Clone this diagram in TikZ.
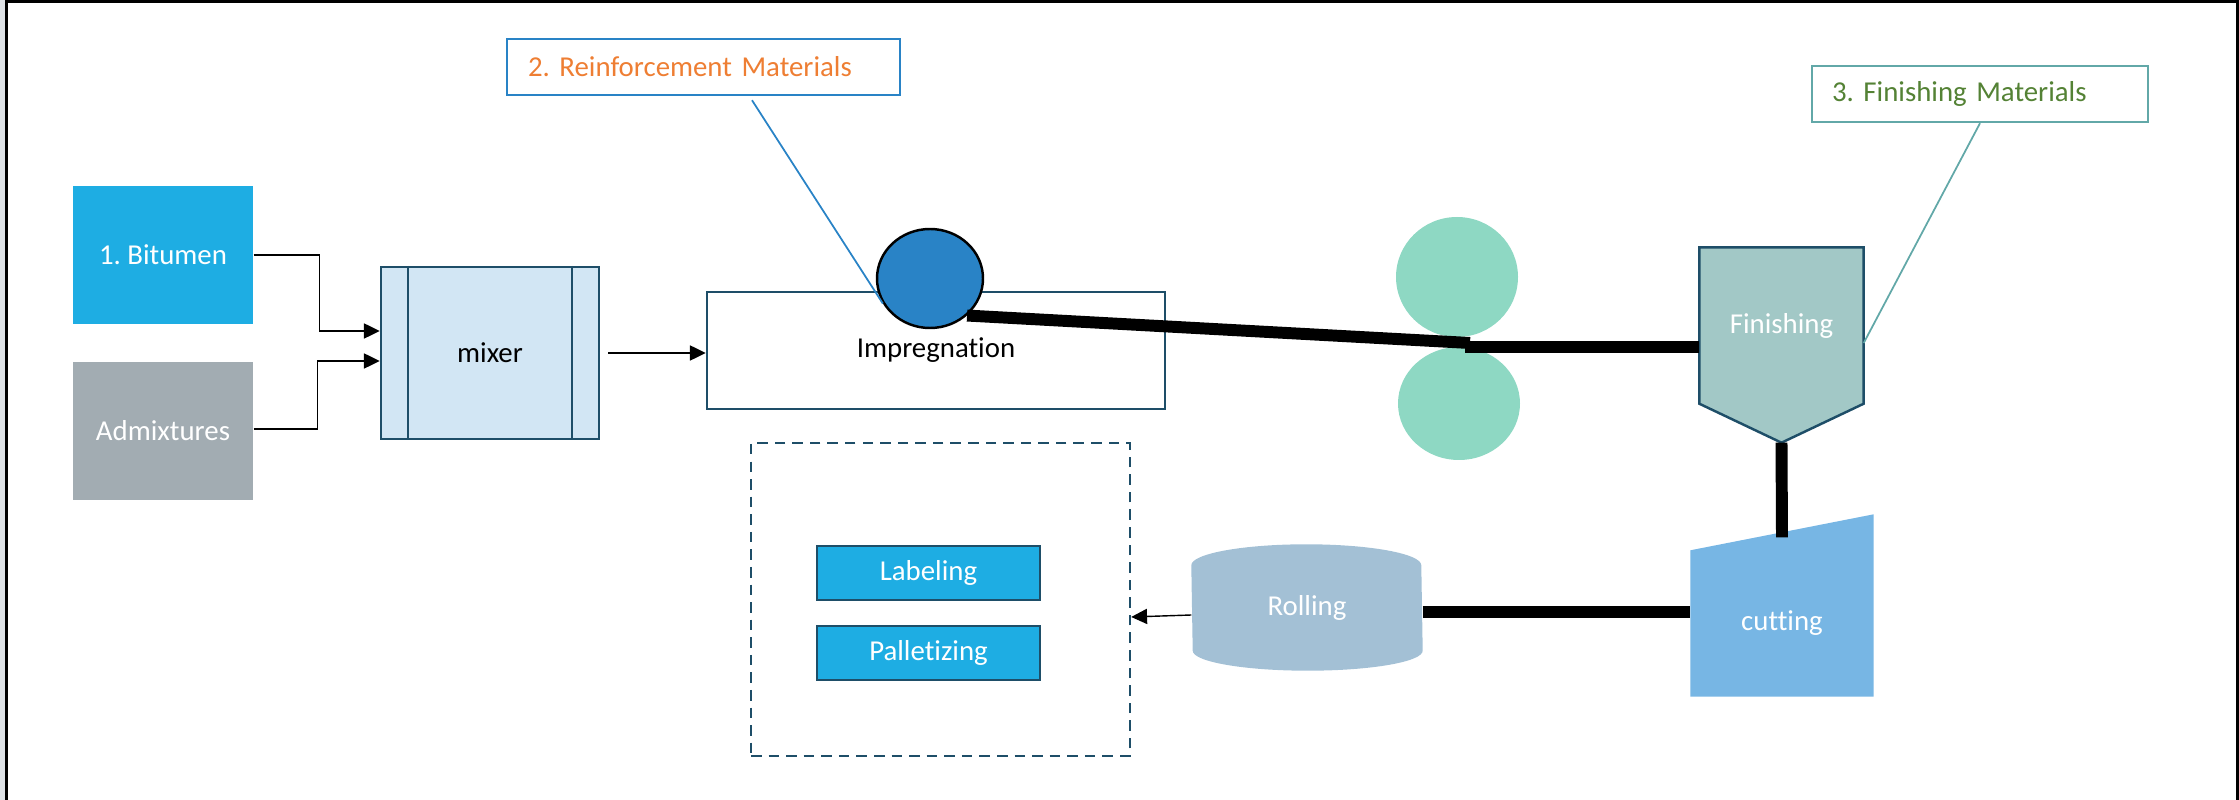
\documentclass[tikz,border=0pt]{standalone}
\usepackage{fontspec}
\setmainfont{Carlito}[Ligatures=NoCommon]
\frenchspacing
\usetikzlibrary{arrows.meta, calc, shapes.geometric, backgrounds}

\definecolor{bitblue}{HTML}{1EADE3}
\definecolor{admgray}{HTML}{A2ACB2}
\definecolor{mixfill}{HTML}{D2E6F4}
\definecolor{deepteal}{HTML}{1E4E68}
\definecolor{reelblue}{HTML}{2983C6}
\definecolor{calorange}{HTML}{EE7E33}
\definecolor{nipgreen}{HTML}{8ED8C3}
\definecolor{finfill}{HTML}{A2C8C6}
\definecolor{calteal}{HTML}{62A8A8}
\definecolor{calgreen}{HTML}{548235}
\definecolor{cutblue}{HTML}{77B6E4}
\definecolor{rollfill}{HTML}{A3C0D5}
\definecolor{sidegray}{HTML}{DEE2E6}

\begin{document}
\begin{tikzpicture}[font=\fontsize{8.2}{9.8}\selectfont,
    feed/.style = {inner sep=0, minimum width=1.80cm, minimum height=1.38cm, text=white},
    tealbox/.style = {draw=deepteal, line width=0.7pt, fill=white, inner sep=0},
    callout/.style = {line width=0.7pt, inner xsep=0.21cm, inner ysep=0, text width=3.51cm, align=left, minimum height=0.56cm},
    task/.style = {fill=bitblue, draw=deepteal, line width=0.7pt, text=white, inner sep=0, minimum width=2.23cm, minimum height=0.54cm},
    nip/.style = {ellipse, fill=nipgreen, inner sep=0, minimum width=1.22cm},
    flow/.style = {-{Triangle[length=4.5pt,width=4.3pt]}, line width=0.4pt},
    belt/.style = {line width=3.4pt, line cap=butt}]
    \useasboundingbox (0,0) rectangle (22.39,-8.00);
    \fill[sidegray] (0,0) rectangle (0.05,-8.00);
    \draw[line width=0.85pt] (0.065,-0.02) rectangle (22.375,-8.30);

    % raw materials and mixing
    \node (bit) at (1.63,-2.55) [feed, fill=bitblue] {1. Bitumen};
    \node (adm) at (1.63,-4.31) [feed, fill=admgray] {Admixtures};
    \node (mix) at (4.90,-3.53) [tealbox, fill=mixfill, minimum width=2.18cm, minimum height=1.72cm] {mixer};
    \draw[deepteal, line width=0.7pt] ([xshift=0.28cm]mix.north west) -- ([xshift=0.28cm]mix.south west);
    \draw[deepteal, line width=0.7pt] ([xshift=-0.28cm]mix.north east) -- ([xshift=-0.28cm]mix.south east);

    % impregnation
    \node (imp) at (9.36,-3.505) [tealbox, minimum width=4.58cm, minimum height=1.17cm] {Impregnation};
    \node (reel) at (9.30,-2.785) [ellipse, draw=black, line width=0.7pt, fill=reelblue, inner sep=0, minimum width=1.06cm, minimum height=0.99cm] {};
    \node (rein) at (7.035,-0.67) [callout, draw=reelblue, text=calorange] {2. Reinforcement Materials};

    % press rollers and finishing
    \node (nipup) at (14.57,-2.77) [nip, minimum height=1.20cm] {};
    \node (nipdown) at (14.59,-4.035) [nip, minimum height=1.13cm] {};
    \node (fin) at (17.815,-3.255) [feed, minimum width=1.63cm, minimum height=1.55cm] {Finishing};
    \node (finm) at (19.80,-0.94) [callout, draw=calteal, text=calgreen, text width=2.96cm, inner xsep=0.20cm] {3. Finishing Materials};

    % cutting, rolling, packing
    \node (cut) at (17.82,-6.235) [feed, minimum width=1.82cm, minimum height=1.45cm] {cutting};
    \node (roll) at (13.07,-6.075) [feed, minimum width=2.30cm, minimum height=1.25cm] {Rolling};
    \node (pack) at (9.405,-5.995) [draw=deepteal, line width=0.7pt, dash pattern=on 3pt off 2pt, minimum width=3.79cm, minimum height=3.13cm] {};
    \node (lab) at (9.285,-5.73) [task] {Labeling};
    \node (pal) at (9.285,-6.53) [task] {Palletizing};

    \begin{scope}[on background layer]
        \filldraw[fill=finfill, draw=deepteal, line width=0.7pt] (fin.north west) -- (fin.north east) -- (fin.south east)
            -- ($(fin.south)+(0,-0.39)$) -- (fin.south west) -- cycle;
        \fill[cutblue] (cut.south west) -- (cut.south east) -- ([yshift=0.36cm]cut.north east) -- (cut.north west) -- cycle;
        \fill[rollfill] ([yshift=-0.21cm]roll.north west) arc[start angle=180, end angle=0, x radius=1.15cm, y radius=0.21cm]
            -- ([yshift=0.20cm]roll.south east) arc[start angle=0, end angle=-180, x radius=1.15cm, y radius=0.20cm] -- cycle;
    \end{scope}

    % connectors
    \draw[flow] (bit.east) -- ++(0.66,0) |- ([yshift=0.22cm]mix.west);
    \draw[flow] ([yshift=0.02cm]adm.east) -- ++(0.64,0) |- ([yshift=-0.08cm]mix.west);
    \draw[flow] ([xshift=0.08cm]mix.east) -- (mix.east -| imp.west);
    \draw[flow] ([yshift=-0.075cm]roll.west) -- ([yshift=-0.175cm]pack.east);
    \draw[reelblue, line width=0.5pt] ([xshift=0.485cm,yshift=-0.04cm]rein.south) -- (reel.208);
    \draw[calteal, line width=0.5pt] (finm.south) -- ([yshift=-0.175cm]fin.east);

    % web path
    \coordinate (nipin) at (14.70,-3.43);
    \coordinate (nipout) at (14.65,-3.47);
    \coordinate (fintip) at ($(fin.south)+(0,-0.39)$);
    \draw[belt] (reel.-45) -- (nipin);
    \draw[belt] (nipout) -- (nipout -| fin.west);
    \draw[belt] (fintip) -- ([yshift=0.13cm]cut.north);
    \draw[belt] ([yshift=-0.045cm]roll.east) -- ([yshift=-0.045cm]roll.east -| cut.west);
\end{tikzpicture}
\end{document}
